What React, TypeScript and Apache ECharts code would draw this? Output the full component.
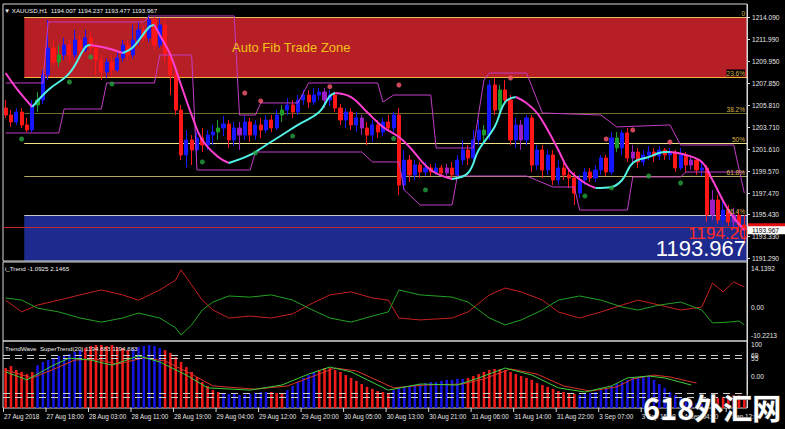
import React, { useEffect, useRef } from "react";
import * as echarts from "echarts";

// ---------- DATA ----------
// candles: [open, close, low, high]
const candles: number[][] = [
  [1205.48, 1204.82, 1204.54, 1206.24], [1204.82, 1204.16, 1203.69, 1205.29], [1204.16, 1205.10, 1203.88, 1205.48],
  [1205.10, 1203.88, 1203.59, 1205.48], [1203.88, 1203.40, 1203.21, 1204.54], [1203.40, 1205.77, 1203.21, 1206.24],
  [1205.77, 1206.24, 1205.10, 1207.00], [1206.24, 1208.61, 1205.86, 1209.08], [1208.61, 1211.16, 1208.13, 1213.81],
  [1211.16, 1209.83, 1209.46, 1211.92], [1209.83, 1210.50, 1209.36, 1211.44], [1210.50, 1211.44, 1210.02, 1212.11],
  [1211.44, 1210.50, 1209.83, 1211.92], [1210.50, 1211.92, 1210.21, 1212.86], [1211.92, 1210.97, 1210.50, 1212.39],
  [1210.97, 1212.11, 1210.78, 1212.86], [1212.11, 1211.16, 1210.78, 1212.67], [1211.16, 1210.02, 1208.61, 1211.54],
  [1210.02, 1208.89, 1208.13, 1210.50], [1208.89, 1209.83, 1208.32, 1210.21], [1209.83, 1209.08, 1208.61, 1210.50],
  [1209.08, 1210.21, 1208.89, 1210.78], [1210.21, 1211.44, 1209.83, 1211.92], [1211.44, 1210.50, 1210.02, 1211.92],
  [1210.50, 1211.92, 1210.21, 1213.34], [1211.92, 1212.86, 1211.44, 1213.62], [1212.86, 1212.11, 1211.73, 1213.34],
  [1212.11, 1213.81, 1211.73, 1214.28], [1213.81, 1211.44, 1210.97, 1214.09], [1211.44, 1213.34, 1211.16, 1214.00],
  [1213.34, 1210.50, 1209.83, 1213.81], [1210.50, 1208.61, 1206.71, 1210.97], [1208.61, 1205.29, 1204.82, 1209.08],
  [1205.29, 1201.04, 1200.56, 1205.77], [1201.04, 1202.46, 1199.81, 1203.40], [1202.46, 1201.51, 1200.09, 1202.93],
  [1201.51, 1202.65, 1200.56, 1203.21], [1202.65, 1201.98, 1201.32, 1203.59], [1201.98, 1202.93, 1201.51, 1203.40],
  [1202.93, 1203.21, 1201.98, 1203.88], [1203.21, 1203.59, 1202.46, 1204.35], [1203.59, 1203.97, 1202.83, 1204.73],
  [1203.97, 1202.46, 1201.70, 1204.35], [1202.46, 1203.59, 1201.89, 1204.16], [1203.59, 1202.93, 1201.51, 1204.16],
  [1202.93, 1204.16, 1202.46, 1204.73], [1204.16, 1202.93, 1202.27, 1204.54], [1202.93, 1203.88, 1202.46, 1204.35],
  [1203.88, 1203.40, 1202.65, 1204.54], [1203.40, 1204.35, 1203.12, 1204.82], [1204.35, 1203.59, 1203.21, 1204.82],
  [1203.59, 1204.82, 1203.40, 1205.29], [1204.82, 1205.29, 1204.16, 1205.77], [1205.29, 1205.77, 1204.82, 1206.43],
  [1205.77, 1205.10, 1204.54, 1206.24], [1205.10, 1206.24, 1204.82, 1206.71], [1206.24, 1206.71, 1205.77, 1207.19],
  [1206.71, 1206.05, 1205.48, 1207.19], [1206.05, 1206.71, 1205.77, 1207.37], [1206.71, 1207.00, 1206.24, 1207.37],
  [1207.00, 1206.24, 1205.48, 1207.37], [1206.24, 1206.71, 1205.67, 1207.19], [1206.71, 1205.48, 1205.10, 1207.00],
  [1205.48, 1204.35, 1203.88, 1205.86], [1204.35, 1205.10, 1203.59, 1205.48], [1205.10, 1203.88, 1203.40, 1205.48],
  [1203.88, 1204.54, 1203.21, 1205.10], [1204.54, 1203.59, 1202.93, 1204.82], [1203.59, 1202.93, 1201.98, 1204.16],
  [1202.93, 1203.88, 1202.27, 1204.35], [1203.88, 1203.21, 1202.65, 1204.35], [1203.21, 1204.16, 1202.83, 1204.54],
  [1204.16, 1203.59, 1203.21, 1204.82], [1203.59, 1204.82, 1203.21, 1205.10], [1204.82, 1198.20, 1197.25, 1205.48],
  [1198.20, 1200.56, 1197.73, 1201.51], [1200.56, 1199.15, 1198.48, 1201.04], [1199.15, 1200.09, 1198.67, 1200.56],
  [1200.09, 1199.43, 1198.86, 1200.38], [1199.43, 1199.81, 1199.05, 1200.38], [1199.81, 1199.43, 1199.05, 1200.19],
  [1199.43, 1199.81, 1199.15, 1200.28], [1199.81, 1199.33, 1198.96, 1200.09], [1199.33, 1199.81, 1198.86, 1200.19],
  [1199.81, 1199.15, 1198.67, 1200.38], [1199.15, 1200.56, 1198.86, 1201.04], [1200.56, 1201.51, 1200.09, 1202.46],
  [1201.51, 1200.75, 1200.09, 1201.98], [1200.75, 1202.46, 1200.38, 1203.40], [1202.46, 1203.40, 1201.98, 1204.35],
  [1203.40, 1202.93, 1202.27, 1203.88], [1202.93, 1207.66, 1202.46, 1208.13], [1207.66, 1205.29, 1204.82, 1208.32],
  [1205.29, 1207.19, 1205.10, 1207.66], [1207.19, 1206.24, 1205.77, 1208.13], [1206.24, 1202.46, 1201.98, 1206.71],
  [1202.46, 1203.88, 1201.70, 1204.54], [1203.88, 1202.46, 1201.51, 1204.35], [1202.46, 1204.54, 1201.98, 1204.82],
  [1204.54, 1200.09, 1199.43, 1204.82], [1200.09, 1201.51, 1199.62, 1201.98], [1201.51, 1199.62, 1198.86, 1201.98],
  [1199.62, 1201.04, 1199.15, 1201.51], [1201.04, 1198.67, 1198.20, 1201.51], [1198.67, 1199.81, 1198.20, 1200.56],
  [1199.81, 1199.15, 1198.67, 1200.38], [1199.15, 1198.86, 1197.92, 1199.62], [1198.86, 1197.44, 1196.31, 1199.43],
  [1197.44, 1198.67, 1196.97, 1199.15], [1198.67, 1199.43, 1198.20, 1199.81], [1199.43, 1198.86, 1198.48, 1199.81],
  [1198.86, 1199.62, 1198.48, 1200.09], [1199.62, 1200.75, 1199.15, 1201.04], [1200.75, 1199.43, 1199.05, 1201.04],
  [1199.43, 1202.65, 1199.15, 1203.21], [1202.65, 1201.70, 1201.32, 1203.21], [1201.70, 1203.12, 1201.04, 1203.40],
  [1203.12, 1200.75, 1200.38, 1203.59], [1200.75, 1201.32, 1200.09, 1201.98], [1201.32, 1200.38, 1199.81, 1201.70],
  [1200.38, 1201.04, 1200.00, 1201.51], [1201.04, 1201.32, 1200.56, 1201.89], [1201.32, 1200.94, 1200.38, 1201.70],
  [1200.94, 1201.51, 1200.56, 1201.89], [1201.51, 1201.04, 1200.56, 1201.70], [1201.04, 1201.32, 1200.56, 1201.70],
  [1201.32, 1199.81, 1199.43, 1201.51], [1199.81, 1201.04, 1199.62, 1201.70], [1201.04, 1200.09, 1199.43, 1201.32],
  [1200.09, 1200.56, 1199.62, 1201.04], [1200.56, 1199.62, 1199.15, 1200.75], [1199.62, 1199.81, 1199.05, 1200.38],
  [1199.81, 1195.36, 1194.70, 1200.09], [1195.36, 1196.78, 1194.89, 1197.73], [1196.78, 1194.89, 1194.51, 1197.25],
  [1194.89, 1195.83, 1194.42, 1196.59], [1195.83, 1194.70, 1194.32, 1196.31], [1194.70, 1195.36, 1194.13, 1196.02],
  [1195.36, 1194.42, 1193.75, 1195.83], [1194.42, 1193.97, 1192.71, 1195.36],
];
const purpleBars = [44, 60, 67, 83, 97, 118, 129, 133, 137];
const greenBars = [6, 10, 40, 52, 90, 93, 115];

// smoothed trend line keypoints [bar, price]
const maLine: number[][] = [
  [0, 1208.79], [2, 1207.37], [5, 1205.58], [8, 1207.19], [12, 1208.79], [15, 1211.25], [16, 1211.44],
  [19, 1211.16], [22, 1210.69], [24, 1211.25], [27, 1213.15], [28, 1213.34], [29, 1212.39], [31, 1210.5],
  [33, 1207.66], [35, 1204.82], [37, 1202.46], [40, 1200.85], [42, 1200.28], [46, 1201.04], [49, 1201.98],
  [52, 1202.93], [55, 1203.88], [59, 1205.1], [61, 1206.6], [62, 1206.9], [65, 1206.52], [68, 1205.1],
  [71, 1203.69], [74, 1202.74], [76, 1201.79], [80, 1199.62], [84, 1198.77], [87, 1199.33], [89, 1201.51],
  [92, 1203.69], [94, 1206.05], [96, 1206.52], [98, 1205.96], [100, 1205.01], [102, 1203.4], [104, 1201.51],
  [106, 1199.62], [109, 1198.39], [111, 1197.92], [114, 1198.01], [116, 1198.67], [118, 1200.28],
  [121, 1200.85], [124, 1201.32], [125, 1201.32], [128, 1201.04], [131, 1200.38], [133, 1198.67],
  [136, 1195.83], [139, 1193.94],
];
const upperBand: number[][] = [
  [0, 1207.85], [7, 1207.85], [8, 1213.62], [26, 1213.62], [27, 1214.19], [43, 1214.19], [44, 1204.82],
  [47, 1204.82], [48, 1205.96], [55, 1205.96], [57, 1207.85], [70, 1207.85], [71, 1206.05], [73, 1206.71],
  [80, 1206.71], [81, 1201.7], [88, 1201.7], [90, 1208.13], [91, 1208.79], [98, 1208.79], [101, 1205.01],
  [112, 1204.82], [115, 1203.69], [125, 1203.88], [127, 1201.98], [137, 1201.98], [139, 1197.44],
];
const lowerBand: number[][] = [
  [0, 1203.12], [10, 1203.12], [11, 1205.39], [18, 1205.39], [19, 1207.85], [28, 1207.85], [29, 1210.5],
  [35, 1210.5], [36, 1199.62], [46, 1199.62], [47, 1201.32], [67, 1201.32], [69, 1200.38], [74, 1200.38],
  [75, 1197.73], [78, 1196.31], [84, 1196.31], [85, 1199.05], [98, 1199.05], [103, 1198.01], [107, 1198.01],
  [108, 1195.83], [117, 1195.83], [118, 1198.96], [127, 1198.96], [128, 1199.43], [139, 1199.43],
];
const redDots: number[][] = [
  [45, 1206.9], [48, 1206.15], [61, 1207.5], [74, 1207.66], [95, 1208.32], [113, 1202.55], [118, 1203.4], [125, 1202.27],
];
const greenDots: number[][] = [
  [3, 1202.55], [12, 1207.94], [16, 1210.31], [20, 1207.75], [37, 1200.38], [47, 1201.23], [54, 1202.83],
  [73, 1202.6], [79, 1197.73], [109, 1197.16], [114, 1197.92], [121, 1199.05], [127, 1198.39],
];

const fibPrices = [1214.09, 1208.41, 1205.01, 1202.17, 1199.05, 1195.36];
const fibLabels = ["0", "23.6%", "38.2%", "50%", "61.8%", "76.4%"];
const bidPrice = 1194.204;
const lastPrice = 1193.967;
const priceTicks = [1214.09, 1211.99, 1209.95, 1207.85, 1205.81, 1203.71, 1201.61, 1199.57, 1197.47, 1195.43, 1193.33, 1191.29];

// i_Trend panel
const trendRed: number[][] = [
  [0, 2.5], [3, -1.8], [6, 0.7], [10, 2.5], [14, 4.4], [18, 6.2], [22, 4.4], [25, 2.5], [29, 6.2], [32, 9.8],
  [33, 13.5], [35, 8], [37, 2.5], [39, -1.1], [42, -4], [46, -3.3], [50, -4], [54, -2.5], [57, 0.7], [61, 4.4],
  [65, 5.5], [69, 3.3], [72, 2.5], [74, -4], [78, -4.7], [84, -4], [87, -1.8], [91, 4.4], [94, 6.9], [97, 5.5],
  [101, 2.5], [104, -1.8], [108, -4], [112, -1.8], [116, 0.7], [119, 2.5], [123, 0.7], [127, -1.1], [131, 0],
  [133, 8.7], [135, 5.5], [137, 9.1], [139, 7.3],
];
const trendGreen: number[][] = [
  [0, 3.3], [3, 2.5], [6, -0.4], [10, -1.8], [14, -4], [18, -5.5], [22, -4], [25, -2.2], [29, -4], [32, -7.6],
  [33, -10.2], [35, -6.5], [37, -1.1], [39, 1.8], [42, 4], [46, 3.6], [50, 4.4], [54, 2.5], [57, -0.4], [61, -4],
  [65, -5.5], [69, -3.3], [72, -1.8], [74, 6.2], [78, 4.4], [84, 3.6], [87, 1.8], [91, -4], [94, -6.5], [97, -4.7],
  [101, -1.1], [104, 2.5], [108, 4], [112, 2.5], [116, 0], [119, -1.1], [123, 0.7], [127, 1.8], [131, -1.1],
  [133, -5.8], [136, -5.5], [138, -5.1], [139, -6.5],
];
const trendTicks = [14.1392, 0, -10.2213];
const trendTickLabels = ["14.1392", "0.00", "-10.2213"];

// TrendWave panel
const waveBars = [
  28, 34, 22, 16, 9, 16,
  37, 47, 53, 59, 66, 69, 72, 78, 84,
  91, 97, 100, 100, 97, 100, 94, 91, 84,
  87, 94, 97, 100, 97, 91,
  84, 75, 62, 47, 31, 16, 0, -16, -28, -41, -47,
  -50, -53, -53, -56, -56, -53, -50, -47, -47,
  -47, -50, -53,
  -41, -28, -16, -3, 6, 16,
  22, 28, 28, 22, 16, 6, -3, -12, -22, -31, -37, -44, -47, -50,
  -41, -34, -31, -28, -25, -22, -19, -16, -16, -12, -9, -9, -6, -6,
  -3, 3, 9, 16, 22, 25, 25, 22, 16, 9, 3, -3, -9, -19, -25, -31, -37, -44, -47, -50, -53,
  -56, -53, -50, -47, -41, -34, -28, -22, -16, -9, -3, 0, 3, 3,
  -9, -22, -34, -47, -56, -66, -72, -78, -81, -84,
  -78, -72, -66, -62, -59, -56, -56, -59,
];
const waveUpRanges = [[6, 14], [24, 29], [41, 49], [53, 58], [73, 86], [108, 131]];
const waveFast: number[][] = [
  [0, 16], [4, -9], [9, 37], [12, 59], [16, 53], [20, 37], [25, 66], [29, 47], [34, 6], [38, -34], [46, -41],
  [52, -25], [57, 9], [61, 31], [65, 16], [72, -41], [78, -22], [85, -25], [89, -3], [94, 28], [99, 6],
  [104, -34], [109, -47], [114, -28], [117, -3], [121, 3], [124, -3], [129, -25],
];
const waveSlow: number[][] = [
  [0, 22], [5, -3], [10, 31], [13, 53], [17, 56], [21, 40], [26, 60], [30, 50], [35, 9], [39, -28], [47, -38],
  [53, -28], [58, 3], [62, 28], [66, 19], [73, -34], [79, -25], [86, -22], [90, -6], [95, 25], [100, 9],
  [105, -28], [110, -44], [115, -31], [118, -6], [122, 6], [125, 0], [130, -19],
];
const waveLevels = [68, 58, -50, -62];
const waveTicks = [100, 68, 58, 0];
const waveTickLabels = ["100", "69", "55", "0.00"];

const timeLabels = [
  "27 Aug 2018", "27 Aug 18:00", "28 Aug 03:00", "28 Aug 11:00", "28 Aug 19:00", "29 Aug 04:00",
  "29 Aug 12:00", "29 Aug 20:00", "30 Aug 05:00", "30 Aug 13:00", "30 Aug 21:00", "31 Aug 06:00",
  "31 Aug 14:00", "31 Aug 22:00", "3 Sep 07:00", "3 Sep 15:00", "4 Sep 04:00", "4 Sep 12:00",
];
const timeLabelStep = 8;

// ---------- STYLE / LAYOUT ----------
const WAVE_BASE = 96.9;
const BLUE = "#1717ff";
const RED = "#ff1616";
const PURPLE = "#9b1fc2";
const GREEN = "#1d9b2b";
const FONT = "'Liberation Sans', Arial, sans-serif";
const AX = "#d8d8d8";
const GRID_L = 3;
const GRID_R = 747;

function segments(pts: number[][]) {
  const segs: { dir: number; pts: number[][] }[] = [];
  let cur = [pts[0]];
  let dir = 0;
  for (let k = 1; k < pts.length; k++) {
    const d = pts[k][1] >= pts[k - 1][1] ? 1 : -1;
    if (dir === 0 || d === dir) {
      cur.push(pts[k]);
      dir = d;
    } else {
      segs.push({ dir, pts: cur });
      cur = [pts[k - 1], pts[k]];
      dir = d;
    }
  }
  segs.push({ dir, pts: cur });
  return segs;
}

export default function App() {
  const ref = useRef<HTMLDivElement>(null);
  useEffect(() => {
    document.body.style.margin = "0";
    document.body.style.background = "#000";
    const chart = echarts.init(ref.current!, null, { renderer: "svg" });
    const cats = candles.map((_, i) => String(i));
    const purpleSet = new Set(purpleBars);
    const greenSet = new Set(greenBars);
    const upSet = new Set<number>();
    waveUpRanges.forEach(([a, b]) => {
      for (let i = a; i <= b; i++) upSet.add(i);
    });

    const candleData = candles.map((c, i) => {
      if (purpleSet.has(i) || greenSet.has(i)) {
        const col = purpleSet.has(i) ? PURPLE : GREEN;
        return { value: c, itemStyle: { color: col, color0: col, borderColor: col, borderColor0: col } };
      }
      return c;
    });

    const xAx = (gi: number) => ({
      type: "category", gridIndex: gi, data: cats, boundaryGap: true, show: false,
    });
    const gridBase = { show: true, borderColor: AX, borderWidth: 1, backgroundColor: "transparent" };

    const maSeries = segments(maLine).map((s) => ({
      type: "line", xAxisIndex: 0, yAxisIndex: 0, data: s.pts, smooth: 0.4, symbol: "none",
      lineStyle: { color: s.dir > 0 ? "#52f2e6" : "#ff3fd2", width: 2 }, z: 5, silent: true,
    }));
    const bandStyle = { color: "#c13dc6", width: 1 };
    const waveOff = (pts: number[][]) => pts.map(([x, v]) => [x, v + WAVE_BASE]);

    const option: any = {
      animation: false,
      backgroundColor: "#000",
      grid: [
        { ...gridBase, left: GRID_L, top: 4, width: GRID_R - GRID_L, height: 257 },
        { ...gridBase, left: GRID_L, top: 262, width: GRID_R - GRID_L, height: 79 },
        { ...gridBase, left: GRID_L, top: 341, width: GRID_R - GRID_L, height: 67 },
      ],
      xAxis: [xAx(0), xAx(1), xAx(2)],
      yAxis: [
        { type: "value", gridIndex: 0, min: 1191.01, max: 1215.32, show: false },
        { type: "value", gridIndex: 1, min: -12.36, max: 16.36, show: false },
        { type: "value", gridIndex: 2, min: 0, max: 209.4, show: false },
      ],
      series: [
        {
          type: "candlestick", xAxisIndex: 0, yAxisIndex: 0, data: candleData, barWidth: 3.6,
          itemStyle: { color: BLUE, color0: RED, borderColor: BLUE, borderColor0: RED, borderWidth: 1 },
          z: 3, silent: true,
        },
        { type: "line", xAxisIndex: 0, yAxisIndex: 0, data: upperBand, symbol: "none", lineStyle: bandStyle, z: 4, silent: true },
        { type: "line", xAxisIndex: 0, yAxisIndex: 0, data: lowerBand, symbol: "none", lineStyle: bandStyle, z: 4, silent: true },
        ...maSeries,
        {
          type: "scatter", xAxisIndex: 0, yAxisIndex: 0, data: redDots, symbolSize: 5,
          itemStyle: { color: "#ff5a70" }, z: 6, silent: true,
        },
        {
          type: "scatter", xAxisIndex: 0, yAxisIndex: 0, data: greenDots, symbolSize: 5,
          itemStyle: { color: "#24a040" }, z: 6, silent: true,
        },
        {
          type: "line", xAxisIndex: 1, yAxisIndex: 1, data: trendRed, symbol: "none",
          lineStyle: { color: "#c62020", width: 1 }, silent: true,
        },
        {
          type: "line", xAxisIndex: 1, yAxisIndex: 1, data: trendGreen, symbol: "none",
          lineStyle: { color: "#22a022", width: 1 }, silent: true,
        },
        {
          type: "bar", xAxisIndex: 2, yAxisIndex: 2, data: waveBars.map((v) => v + WAVE_BASE), barWidth: 2.6,
          itemStyle: { color: (p: any) => (upSet.has(p.dataIndex) ? "#1515e6" : "#f01a1a") }, silent: true,
          markLine: {
            silent: true, symbol: "none", label: { show: false },
            lineStyle: { color: "#cfcfcf", type: [7, 5], width: 1 },
            data: waveLevels.map((v) => ({ yAxis: v + WAVE_BASE })),
          },
        },
        {
          type: "line", xAxisIndex: 2, yAxisIndex: 2, data: waveOff(waveSlow), symbol: "none",
          lineStyle: { color: "#d8352a", width: 1 }, z: 4, silent: true,
        },
        {
          type: "line", xAxisIndex: 2, yAxisIndex: 2, data: waveOff(waveFast), symbol: "none",
          lineStyle: { color: "#3ccf3c", width: 1 }, z: 5, silent: true,
        },
      ],
    };
    chart.setOption(option);

    const P = (gi: number, i: number, v: number) =>
      chart.convertToPixel({ gridIndex: gi } as any, [i, v]) as number[];
    const bw = P(0, 1, 1200)[0] - P(0, 0, 1200)[0];
    const zoneLeft = P(0, 3, 1200)[0] + bw / 2;
    const gfx: any[] = [];
    const yOf = (v: number) => P(0, 0, v)[1];
    const small = (px: number) => `${px}px ${FONT}`;

    // zones
    const redTop = yOf(fibPrices[0]);
    const redBot = yOf(fibPrices[1]);
    gfx.push({ type: "rect", z: -5, silent: true, shape: { x: zoneLeft, y: redTop, width: GRID_R - zoneLeft, height: redBot - redTop }, style: { fill: "#b61f25" } });
    const blueTop = yOf(fibPrices[5]);
    gfx.push({ type: "rect", z: -5, silent: true, shape: { x: zoneLeft, y: blueTop, width: GRID_R - zoneLeft, height: 261 - blueTop }, style: { fill: "#1f2a8e" } });
    // fib lines
    const fibColors = ["#e8c060", "#f2b43a", "#6f6d2a", "#f0e08a", "#b5a660", "#c8c8c8"];
    fibPrices.forEach((p, k) => {
      const y = Math.round(yOf(p)) + 0.5;
      gfx.push({ type: "line", z: -4, silent: true, shape: { x1: zoneLeft, y1: y, x2: GRID_R, y2: y }, style: { stroke: fibColors[k], lineWidth: 1 } });
      gfx.push({
        type: "text", z: 20, silent: true, x: GRID_R - 2, y: y - 1,
        style: { text: fibLabels[k], fill: "#d6b64a", font: small(6.5), align: "right", verticalAlign: "bottom", backgroundColor: k === 1 ? "#000" : undefined },
      });
    });
    // bid line
    const bidY = Math.round(yOf(bidPrice)) + 0.5;
    gfx.push({ type: "line", z: 1, silent: true, shape: { x1: GRID_L, y1: bidY, x2: GRID_R, y2: bidY }, style: { stroke: "#c02a2a", lineWidth: 1 } });

    // big price texts
    gfx.push({ type: "text", z: 20, silent: true, x: 758, y: 233, style: { text: "1194.204", fill: "#ff2a2a", font: `17px ${FONT}`, align: "right", verticalAlign: "middle" } });
    gfx.push({ type: "text", z: 21, silent: true, x: 746, y: 248, style: { text: "1193.967", fill: "#ffffff", font: `22px ${FONT}`, align: "right", verticalAlign: "middle" } });
    // black right axis area over clipped texts
    gfx.push({ type: "rect", z: 22, silent: true, shape: { x: GRID_R + 1, y: 4, width: 785 - GRID_R, height: 425 }, style: { fill: "#000" } });
    gfx.push({ type: "line", z: 23, silent: true, shape: { x1: GRID_R + 0.5, y1: 4, x2: GRID_R + 0.5, y2: 408 }, style: { stroke: AX, lineWidth: 1 } });

    gfx.push({ type: "text", z: 20, silent: true, x: 232, y: 47, style: { text: "Auto Fib Trade Zone", fill: "#f2c21a", font: `13px ${FONT}`, verticalAlign: "middle" } });

    // price axis labels
    priceTicks.forEach((p) => {
      const y = Math.round(yOf(p)) + 0.5;
      gfx.push({ type: "line", z: 24, silent: true, shape: { x1: GRID_R, y1: y, x2: GRID_R + 3, y2: y }, style: { stroke: AX, lineWidth: 1 } });
      gfx.push({ type: "text", z: 24, silent: true, x: 752, y, style: { text: p.toFixed(3), fill: "#e6e6e6", font: small(6.6), verticalAlign: "middle" } });
    });
    // bid/ask boxes
    const bY = yOf(bidPrice);
    gfx.push({ type: "rect", z: 25, silent: true, shape: { x: GRID_R + 1, y: bY - 4, width: 37, height: 8 }, style: { fill: "#e01010" } });
    const lY = yOf(lastPrice);
    gfx.push({ type: "rect", z: 26, silent: true, shape: { x: GRID_R + 1, y: lY - 3.5, width: 37, height: 8 }, style: { fill: "#ffffff" } });
    gfx.push({ type: "text", z: 27, silent: true, x: 752, y: lY + 0.5, style: { text: lastPrice.toFixed(3), fill: "#000", font: small(6.6), verticalAlign: "middle" } });

    // trend panel labels
    trendTicks.forEach((v, k) => {
      const y = P(1, 0, v)[1];
      gfx.push({ type: "text", z: 24, silent: true, x: 751, y, style: { text: trendTickLabels[k], fill: "#e6e6e6", font: small(6.6), verticalAlign: "middle" } });
    });
    // wave panel labels
    waveTicks.forEach((v, k) => {
      const y = P(2, 0, v + WAVE_BASE)[1];
      gfx.push({ type: "text", z: 24, silent: true, x: 751, y, style: { text: waveTickLabels[k], fill: "#e6e6e6", font: small(6.6), verticalAlign: "middle" } });
    });

    // time labels
    timeLabels.forEach((t, k) => {
      const x = P(2, k * timeLabelStep, 0)[0] - bw / 2;
      gfx.push({ type: "line", z: 24, silent: true, shape: { x1: x + 0.5, y1: 408, x2: x + 0.5, y2: 412 }, style: { stroke: AX, lineWidth: 1 } });
      gfx.push({ type: "text", z: 24, silent: true, x: x + 1, y: 416, style: { text: t, fill: "#e6e6e6", font: small(6.3), verticalAlign: "middle" } });
    });

    // panel headers
    gfx.push({ type: "text", z: 30, silent: true, x: 4, y: 10, style: { text: "▼ XAUUSD,H1  1194.007 1194.237 1193.477 1193.967", fill: "#f0f0f0", font: small(6.2), verticalAlign: "middle" } });
    gfx.push({ type: "text", z: 30, silent: true, x: 5, y: 268, style: { text: "i_Trend -1.0925 2.1465", fill: "#f0f0f0", font: small(6.2), verticalAlign: "middle" } });
    gfx.push({ type: "text", z: 30, silent: true, x: 5, y: 348, style: { text: "TrendWave  SuperTrend(20) 1194.683 1194.683", fill: "#f0f0f0", font: small(6.2), verticalAlign: "middle" } });

    // watermark
    gfx.push({
      type: "text", z: 40, silent: true, x: 643, y: 407,
      style: { text: "618外汇网", fill: "#ffffff", stroke: "#3a3a3a", lineWidth: 1, font: `bold 29px 'Noto Sans CJK SC', sans-serif`, verticalAlign: "middle" },
    });

    chart.setOption({ graphic: { elements: gfx } });
    return () => chart.dispose();
  }, []);
  return <div ref={ref} style={{ width: 785, height: 429, background: "#000" }} />;
}
